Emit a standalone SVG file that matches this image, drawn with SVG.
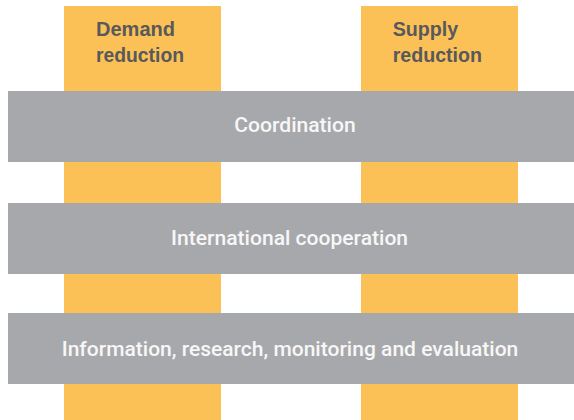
<svg xmlns="http://www.w3.org/2000/svg" width="574" height="420" viewBox="0 0 574 420">
<style>
.col{fill:#fcc156}
.bar{fill:#a7a8ab}
.hd{font-family:"Liberation Sans",Arial,sans-serif;font-weight:bold;font-size:20px;fill:#58595b}
.bt{font-family:Roboto,"Liberation Sans",Arial,sans-serif;font-weight:500;font-size:20px;fill:#f7f7f7;text-anchor:middle}
</style>
<rect width="574" height="420" fill="#ffffff"/>
<g id="demand-reduction">
<rect class="col" x="64" y="6" width="157" height="414"/>
<text class="hd" x="96" y="35.7" textLength="79" lengthAdjust="spacingAndGlyphs">Demand</text>
<text class="hd" x="96" y="61.7" textLength="88" lengthAdjust="spacingAndGlyphs">reduction</text>
</g>
<g id="supply-reduction">
<rect class="col" x="361" y="6" width="157" height="414"/>
<text class="hd" x="392.7" y="35.7" textLength="65.6" lengthAdjust="spacingAndGlyphs">Supply</text>
<text class="hd" x="392.7" y="61.7" textLength="89.3" lengthAdjust="spacingAndGlyphs">reduction</text>
</g>
<g id="coordination">
<rect class="bar" x="8" y="91" width="566" height="71"/>
<text class="bt" x="295" y="131.7" textLength="121.4" lengthAdjust="spacingAndGlyphs">Coordination</text>
</g>
<g id="international-cooperation">
<rect class="bar" x="8" y="203" width="566" height="71"/>
<text class="bt" x="289.6" y="245" textLength="237" lengthAdjust="spacingAndGlyphs">International cooperation</text>
</g>
<g id="information-research">
<rect class="bar" x="8" y="313" width="566" height="71"/>
<text class="bt" x="290" y="356" textLength="456.6" lengthAdjust="spacingAndGlyphs">Information, research, monitoring and evaluation</text>
</g>
<g id="connectors"></g>
</svg>
